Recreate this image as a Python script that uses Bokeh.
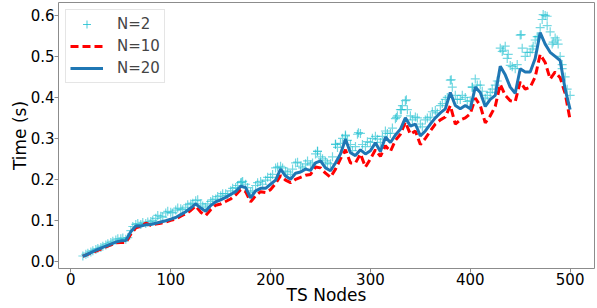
from bokeh.plotting import figure
from bokeh.models import FixedTicker, Legend, LegendItem, NumeralTickFormatter, Range1d, ColumnDataSource
from bokeh.embed import file_html
from bokeh.resources import INLINE

# ---------------- data ----------------
nodes = [12, 15, 20, 25, 30, 35, 40, 45, 50, 55,
         60, 65, 70, 75, 80, 85, 90, 95, 100, 105,
         110, 115, 120, 125, 130, 135, 140, 145, 150, 155,
         160, 165, 170, 175, 180, 185, 190, 195, 200, 205,
         210, 215, 220, 225, 230, 235, 240, 245, 250, 255,
         260, 265, 270, 275, 280, 285, 290, 295, 300, 305,
         310, 315, 320, 325, 330, 335, 340, 345, 350, 355,
         360, 365, 370, 375, 380, 385, 390, 395, 400, 405,
         410, 415, 420, 425, 430, 435, 440, 445, 450, 455,
         460, 465, 470, 475, 480, 485, 490, 495, 500]

time_n20 = [0.012, 0.015, 0.021, 0.027, 0.032, 0.037, 0.042, 0.047, 0.050, 0.051,
            0.072, 0.086, 0.086, 0.089, 0.090, 0.093, 0.096, 0.099, 0.103, 0.107,
            0.114, 0.121, 0.130, 0.140, 0.130, 0.122, 0.136, 0.145, 0.150, 0.156,
            0.163, 0.170, 0.183, 0.180, 0.155, 0.172, 0.178, 0.178, 0.188, 0.198,
            0.225, 0.208, 0.200, 0.215, 0.218, 0.225, 0.222, 0.240, 0.245, 0.228,
            0.221, 0.240, 0.262, 0.298, 0.265, 0.258, 0.272, 0.262, 0.270, 0.289,
            0.268, 0.303, 0.290, 0.308, 0.322, 0.350, 0.330, 0.335, 0.306, 0.318,
            0.335, 0.350, 0.362, 0.372, 0.412, 0.380, 0.372, 0.380, 0.372, 0.425,
            0.412, 0.378, 0.395, 0.405, 0.476, 0.455, 0.425, 0.410, 0.470, 0.462,
            0.462, 0.495, 0.558, 0.530, 0.510, 0.500, 0.490, 0.420, 0.370]

time_n10 = [0.012, 0.015, 0.020, 0.025, 0.030, 0.035, 0.040, 0.045, 0.046, 0.046,
            0.066, 0.082, 0.085, 0.093, 0.088, 0.091, 0.093, 0.096, 0.100, 0.103,
            0.110, 0.116, 0.124, 0.135, 0.120, 0.112, 0.126, 0.137, 0.140, 0.146,
            0.152, 0.162, 0.175, 0.170, 0.145, 0.160, 0.170, 0.168, 0.175, 0.190,
            0.209, 0.198, 0.192, 0.200, 0.205, 0.210, 0.212, 0.230, 0.228, 0.215,
            0.205, 0.225, 0.250, 0.272, 0.240, 0.240, 0.262, 0.230, 0.250, 0.272,
            0.256, 0.282, 0.268, 0.295, 0.310, 0.340, 0.310, 0.318, 0.285, 0.300,
            0.318, 0.335, 0.345, 0.352, 0.380, 0.335, 0.345, 0.350, 0.360, 0.398,
            0.380, 0.338, 0.355, 0.378, 0.432, 0.405, 0.392, 0.390, 0.438, 0.420,
            0.425, 0.450, 0.505, 0.485, 0.445, 0.462, 0.448, 0.410, 0.345]

time_n2 = [0.013, 0.017, 0.023, 0.029, 0.034, 0.040, 0.046, 0.052, 0.055, 0.054,
           0.075, 0.090, 0.090, 0.092, 0.097, 0.105, 0.110, 0.118, 0.120, 0.125,
           0.128, 0.132, 0.140, 0.148, 0.140, 0.132, 0.146, 0.152, 0.160, 0.165,
           0.172, 0.180, 0.192, 0.188, 0.168, 0.185, 0.195, 0.198, 0.205, 0.228,
           0.232, 0.220, 0.212, 0.240, 0.232, 0.238, 0.235, 0.262, 0.255, 0.245,
           0.238, 0.285, 0.288, 0.308, 0.285, 0.280, 0.312, 0.280, 0.290, 0.305,
           0.290, 0.318, 0.312, 0.348, 0.370, 0.392, 0.355, 0.352, 0.335, 0.345,
           0.352, 0.368, 0.380, 0.395, 0.442, 0.405, 0.395, 0.400, 0.392, 0.445,
           0.430, 0.398, 0.412, 0.430, 0.520, 0.525, 0.478, 0.470, 0.552, 0.500,
           0.510, 0.540, 0.570, 0.600, 0.560, 0.545, 0.500, 0.450, 0.405]

# N=2 samples at the in-between nodes
mid_nodes_n2 = [17, 22, 27, 32, 37, 42, 47, 52, 57,
                62, 67, 72, 77, 82, 87, 92, 97, 102, 107,
                112, 117, 122, 127, 132, 137, 142, 147, 152, 157,
                162, 167, 172, 177, 182, 187, 192, 197, 202, 207,
                212, 217, 222, 227, 232, 237, 242, 247, 252, 257,
                262, 267, 272, 277, 282, 287, 292, 297, 302, 307,
                312, 317, 322, 327, 332, 337, 342, 347, 352, 357,
                362, 367, 372, 377, 382, 387, 392, 397, 402, 407,
                412, 417, 422, 427, 432, 437, 442, 447, 452, 457,
                462, 467, 472, 477, 482, 487, 492, 497]
mid_time_n2 = [0.020, 0.026, 0.031, 0.037, 0.043, 0.049, 0.055, 0.057, 0.058,
               0.085, 0.092, 0.095, 0.096, 0.100, 0.112, 0.108, 0.122, 0.118, 0.130,
               0.126, 0.138, 0.142, 0.150, 0.135, 0.140, 0.150, 0.158, 0.165, 0.160,
               0.178, 0.185, 0.195, 0.180, 0.172, 0.192, 0.188, 0.205, 0.212, 0.230,
               0.228, 0.218, 0.225, 0.242, 0.228, 0.245, 0.240, 0.268, 0.250, 0.240,
               0.255, 0.278, 0.300, 0.295, 0.270, 0.310, 0.285, 0.292, 0.300, 0.298,
               0.305, 0.312, 0.325, 0.355, 0.380, 0.370, 0.345, 0.350, 0.328, 0.350,
               0.365, 0.362, 0.385, 0.400, 0.425, 0.395, 0.405, 0.390, 0.425, 0.430,
               0.415, 0.405, 0.420, 0.440, 0.512, 0.495, 0.475, 0.480, 0.520, 0.510,
               0.518, 0.548, 0.590, 0.575, 0.530, 0.540, 0.480, 0.420]

# extra N=2 outliers
extra_nodes_n2 = [171, 247, 265, 275, 288, 326, 331, 336, 381, 402,
                  433, 438, 451, 463, 468, 473, 477, 483, 488, 492]
extra_time_n2 = [0.193, 0.269, 0.286, 0.306, 0.314, 0.351, 0.370, 0.394, 0.443, 0.425,
                 0.515, 0.505, 0.553, 0.525, 0.548, 0.602, 0.598, 0.535, 0.530, 0.470]

x_ticks = [0, 100, 200, 300, 400, 500]
y_ticks = [0.0, 0.1, 0.2, 0.3, 0.4, 0.5, 0.6]

FONT = "DejaVu Sans"
SPINE = "#8c8c8c"

p = figure(frame_width=536, frame_height=266,
           x_range=Range1d(-12.4, 524.4), y_range=Range1d(-0.0175, 0.6315),
           output_backend="svg", toolbar_location=None,
           min_border_left=58, min_border_right=3, min_border_top=2, min_border_bottom=34)

p.xgrid.visible = False
p.ygrid.visible = False
p.outline_line_color = SPINE
p.outline_line_width = 1
p.background_fill_color = "white"
p.border_fill_color = "white"

for ax in (p.xaxis[0], p.yaxis[0]):
    ax.axis_line_color = None
    ax.major_tick_line_color = SPINE
    ax.major_tick_in = 0
    ax.major_tick_out = 4
    ax.minor_tick_line_color = None
    ax.major_label_text_font = FONT
    ax.major_label_text_font_size = "15px"
    ax.major_label_text_color = "black"
    ax.axis_label_text_font = FONT
    ax.axis_label_text_font_size = "17px"
    ax.axis_label_text_font_style = "normal"
    ax.axis_label_text_color = "black"

p.xaxis.ticker = FixedTicker(ticks=x_ticks)
p.yaxis.ticker = FixedTicker(ticks=y_ticks)
p.yaxis.formatter = NumeralTickFormatter(format="0.0")
p.xaxis.axis_label = "TS Nodes"
p.yaxis.axis_label = "Time (s)"
p.xaxis.major_label_standoff = 0
p.xaxis.axis_label_standoff = -3
p.yaxis.major_label_standoff = 0
p.yaxis.axis_label_standoff = -2

src2 = ColumnDataSource(dict(x=nodes + mid_nodes_n2 + extra_nodes_n2,
                             y=time_n2 + mid_time_n2 + extra_time_n2))
r2 = p.scatter("x", "y", source=src2, marker="cross", size=9, line_width=1.2,
               line_color="#17becf", line_alpha=0.6)
r10 = p.line(nodes, time_n10, line_color="#ff0000", line_width=3, line_dash="8 4")
r20 = p.line(nodes, time_n20, line_color="#1f77b4", line_width=3)

# legend-only marker (smaller, placed outside the visible range)
leg_marker = p.scatter(x=[-1000], y=[-1000], marker="cross", size=5, line_width=1,
                       line_color="#17becf", line_alpha=0.8)

legend = Legend(items=[LegendItem(label="N=2", renderers=[leg_marker]),
                       LegendItem(label="N=10", renderers=[r10]),
                       LegendItem(label="N=20", renderers=[r20])],
                location="top_left")
legend.margin = 7
legend.padding = 4
legend.spacing = 2
legend.glyph_width = 33
legend.glyph_height = 20
legend.label_standoff = 14
legend.label_text_font = FONT
legend.label_text_font_size = "15px"
legend.label_height = 20
legend.border_line_color = "#cccccc"
legend.border_line_width = 1
legend.background_fill_alpha = 0.8
p.add_layout(legend)

open("out.html", "w").write(file_html(p, INLINE))
